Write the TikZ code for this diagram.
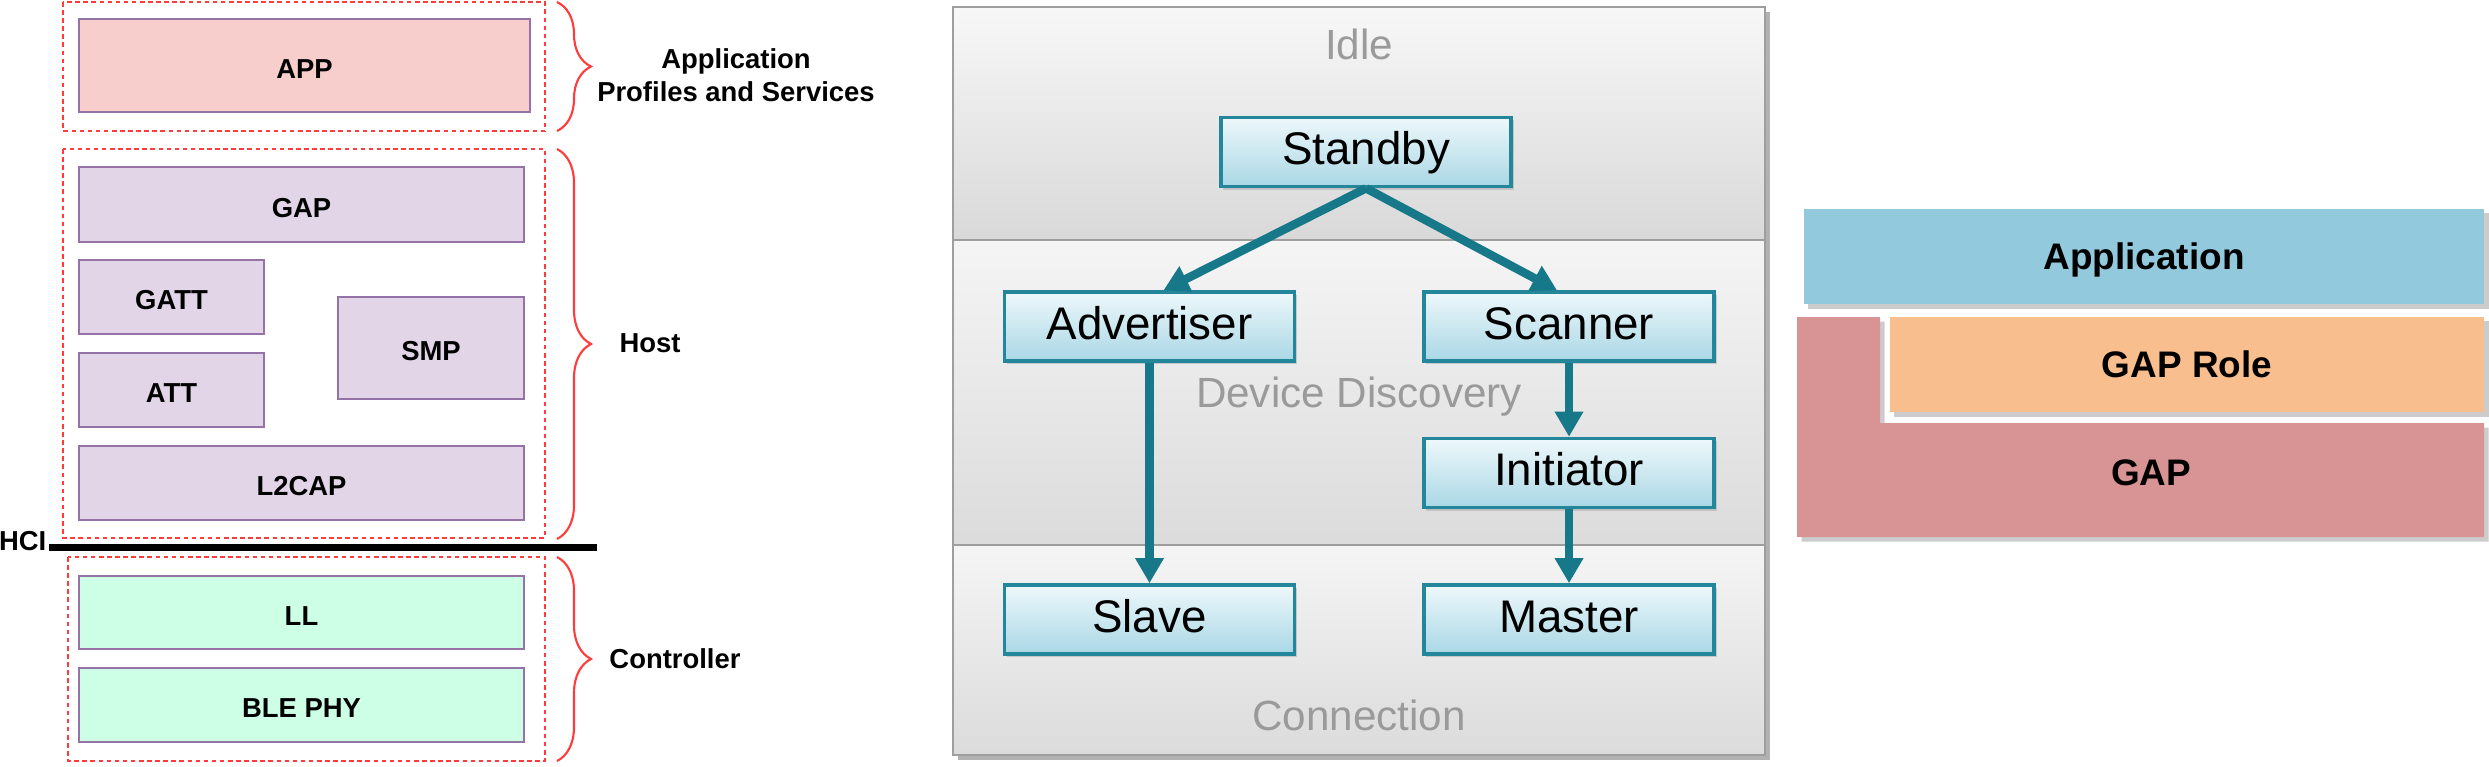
\documentclass[tikz,border=0pt]{standalone}
\usepackage{fontspec}
\setmainfont{Liberation Sans}
\usetikzlibrary{arrows.meta,shadows,decorations.pathreplacing}

\definecolor{layline}{HTML}{9673A6}
\definecolor{hostfill}{HTML}{E1D5E7}
\definecolor{appfill}{HTML}{F8CECC}
\definecolor{ctrlfill}{HTML}{CCFFE6}
\definecolor{dashred}{HTML}{FF3B3B}
\definecolor{statline}{HTML}{23869A}
\definecolor{stattop}{HTML}{EEF8FB}
\definecolor{statbot}{HTML}{A9D7E5}
\definecolor{arrowc}{HTML}{17788A}
\definecolor{bandtxt}{HTML}{9A9A9A}
\definecolor{appbarc}{HTML}{92C9DC}
\definecolor{rolec}{HTML}{F8BE8E}
\definecolor{gapc}{HTML}{D89494}

\tikzset{
  layer/.style={draw=layline, line width=0.6pt, fill=#1, inner sep=0pt,
    font=\fontsize{7.8}{9.4}\selectfont\bfseries, text height=0.716em, text depth=0pt},
  grpbox/.style={draw=dashred, line width=0.6pt, dash pattern=on 1.3pt off 1pt},
  grpbrace/.style={draw=dashred, line width=0.6pt, decorate, decoration={brace, amplitude=0.34cm}},
  lbl/.style={font=\fontsize{7.8}{9.4}\selectfont\bfseries, align=center, inner sep=0pt},
  statebox/.style={draw=statline, line width=1pt, top color=stattop, bottom color=statbot,
    minimum width=2.9cm, minimum height=0.69cm, inner sep=0pt,
    font=\fontsize{13}{15}\selectfont, text height=0.716em, text depth=0pt,
    drop shadow={shadow xshift=0.025cm, shadow yshift=-0.03cm, fill=black!35}},
  bandlbl/.style={text=bandtxt, font=\fontsize{12}{14}\selectfont, inner sep=0pt,
    text height=0.716em, text depth=0pt},
  flow/.style={draw=arrowc, line width=0.085cm, -{Triangle[length=0.25cm, width=0.27cm]}},
  stackbar/.style={fill=#1, inner sep=0pt, font=\fontsize{10.5}{12}\selectfont\bfseries,
    text height=0.716em, text depth=0pt,
    drop shadow={shadow xshift=0.045cm, shadow yshift=-0.045cm, fill=black!40}},
}

\begin{document}
\begin{tikzpicture}[x=0.01cm, y=-0.01cm]

  \useasboundingbox (0,0) rectangle (2489,766);

  % protocol stack
  \draw[grpbox] (63,2) rectangle (545,131);
  \draw[grpbox] (63,149) rectangle (545,538);
  \draw[grpbox] (68,557) rectangle (545,761);

  \node[layer=appfill,  minimum width=4.51cm, minimum height=0.93cm] (app)   at (304.5,65.5) {APP};
  \node[layer=hostfill, minimum width=4.45cm, minimum height=0.75cm] (gapl)  at (301.5,204.5) {GAP};
  \node[layer=hostfill, minimum width=1.85cm, minimum height=0.74cm] (gatt)  at (171.5,297) {GATT};
  \node[layer=hostfill, minimum width=1.85cm, minimum height=0.74cm] (att)   at (171.5,390) {ATT};
  \node[layer=hostfill, minimum width=1.86cm, minimum height=1.02cm] (smp)   at (431,348) {SMP};
  \node[layer=hostfill, minimum width=4.45cm, minimum height=0.74cm] (l2cap) at (301.5,483) {L2CAP};
  \node[layer=ctrlfill, minimum width=4.45cm, minimum height=0.73cm] (ll)    at (301.5,612.5) {LL};
  \node[layer=ctrlfill, minimum width=4.45cm, minimum height=0.74cm] (phy)   at (301.5,705) {BLE PHY};

  \draw[grpbrace] (557,2) -- (557,131);
  \draw[grpbrace] (557,149) -- (557,539);
  \draw[grpbrace] (557,557) -- (557,761);

  \node[lbl] (appl)  at (736,75) {Application\\Profiles and Services};
  \node[lbl] (host)  at (650,343) {Host};
  \node[lbl] (ctrl)  at (675,659) {Controller};

  \node[lbl, anchor=east] (hci) at (47,541) {HCI};
  \coordinate (hcia) at (49,547);
  \coordinate (hcib) at (597,547);
  \draw[line width=0.07cm] (hcia) -- (hcib);

  % GAP states
  \fill[black!30] (958,12) rectangle (1770,760);
  \shade[top color=black!3, bottom color=black!15] (953,7) rectangle (1765,240);
  \shade[top color=black!4, bottom color=black!14] (953,240) rectangle (1765,545);
  \shade[top color=black!4, bottom color=black!14] (953,545) rectangle (1765,755);
  \draw[black!38, line width=0.8pt] (953,7) rectangle (1765,755)
    (953,240) -- (1765,240) (953,545) -- (1765,545);

  \node[bandlbl] (idle) at (1359,47) {Idle};
  \node[bandlbl] (disc) at (1359,395) {Device Discovery};
  \node[bandlbl] (conn) at (1359,718) {Connection};

  \begin{scope}[every node/.style={statebox}]
    \node (standby) at (1366,152)    {Standby};
    \node (adv)     at (1149.5,326.5) {Advertiser};
    \node (scan)    at (1569,326.5)  {Scanner};
    \node (init)    at (1569,473)    {Initiator};
    \node (slave)   at (1149.5,619.5) {Slave};
    \node (master)  at (1569,619.5)  {Master};
  \end{scope}

  \begin{scope}[every edge/.style={flow}]
    \path (standby.south) edge ([xshift=0.14cm]adv.north);
    \path (standby.south) edge ([xshift=-0.12cm]scan.north);
    \path (adv)  edge (slave);
    \path (scan) edge (init);
    \path (init) edge (master);
  \end{scope}

  % GAP layering
  \fill[gapc, drop shadow={shadow xshift=0.045cm, shadow yshift=-0.045cm, fill=black!40}]
    (1797,317) -- (1880,317) -- (1880,423) -- (2484,423) -- (2484,537) -- (1797,537) -- cycle;
  \node[stackbar=appbarc, minimum width=6.8cm,  minimum height=0.95cm] (appbar)  at (2144,256.5) {Application};
  \node[stackbar=rolec,   minimum width=5.94cm, minimum height=0.95cm] (gaprole) at (2187,364.5) {GAP Role};
  \node[font=\fontsize{10.5}{12}\selectfont\bfseries, inner sep=0pt, text height=0.716em, text depth=0pt]
    (gaptxt) at (2151,473) {GAP};

\end{tikzpicture}
\end{document}
